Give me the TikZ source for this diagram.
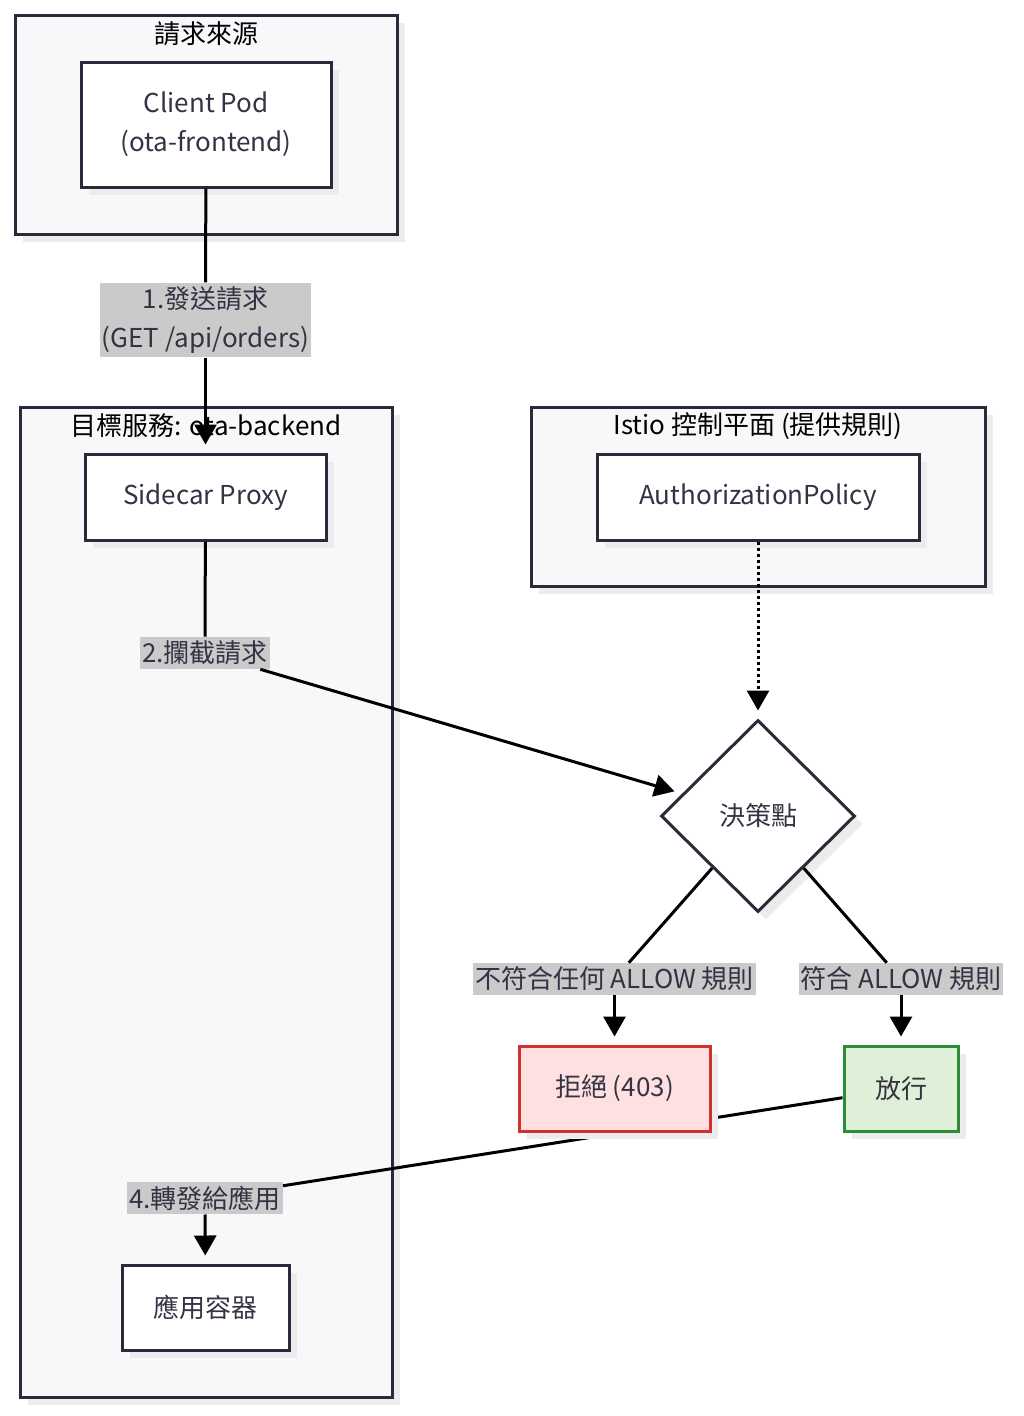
\documentclass[tikz,border=0pt]{standalone}
\usepackage{fontspec}
\setmainfont{Noto Sans CJK TC}
\usetikzlibrary{shapes.geometric,arrows.meta,shadows}

\definecolor{ink}{HTML}{2A2A3C}
\definecolor{txt}{HTML}{333344}
\definecolor{grp}{HTML}{F8F8FB}
\definecolor{lbl}{HTML}{CACACA}
\definecolor{shd}{HTML}{ECECEC}
\definecolor{denyfill}{HTML}{FFE0E0}
\definecolor{denyline}{HTML}{D32F2F}
\definecolor{okfill}{HTML}{DFF0D8}
\definecolor{okline}{HTML}{2E8B3A}

\pgfdeclarelayer{bg}
\pgfdeclarelayer{edges}
\pgfdeclarelayer{front}
\pgfsetlayers{bg,main,edges,front}

\begin{document}
\begin{tikzpicture}[x=1pt,y=-1pt,
  font=\fontsize{26}{39}\selectfont,
  shad/.style={drop shadow={shadow xshift=8pt,shadow yshift=-8pt,fill=shd,opacity=1}},
  grpbox/.style={draw=ink,line width=3pt,fill=grp,shad},
  grptitle/.style={text=black,inner sep=0pt},
  box/.style={draw=ink,line width=3pt,fill=white,text=txt,align=center,inner sep=0pt,shad},
  lblbox/.style={fill=lbl,text=txt,align=center,inner xsep=2pt,inner ysep=4pt},
  edge/.style={line width=3pt,black},
  arr/.style={edge,-{Triangle[length=20pt,width=22pt]},shorten >=8pt}]
\useasboundingbox (0,0) rectangle (1024,1416);

\begin{pgfonlayer}{bg}
\draw[grpbox] (15,15) rectangle (397,234);
\node[grptitle] (srctitle) at (206,34) {請求來源};
\draw[grpbox] (20,407) rectangle (392,1397);
\node[grptitle] (svctitle) at (206,426) {目標服務: ota-backend};
\draw[grpbox] (531,407) rectangle (985,586);
\node[grptitle] (ctltitle) at (758,426) {Istio 控制平面 (提供規則)};
\end{pgfonlayer}

\node[box,minimum width=250pt,minimum height=125pt] (client) at (206,124.5) {Client Pod\\(ota-frontend)};
\node[box,minimum width=241pt,minimum height=86pt] (sidecar) at (205.5,497) {Sidecar Proxy};
\node[box,minimum width=322pt,minimum height=86pt] (policy) at (758,497) {AuthorizationPolicy};
\node[box,diamond,aspect=1,minimum width=194pt,minimum height=192pt] (dec) at (758,816) {決策點};
\node[box,fill=okfill,draw=okline,minimum width=114pt,minimum height=85pt] (ok) at (901,1088.5) {放行};
\node[box,minimum width=167pt,minimum height=85pt] (app) at (205.5,1307.5) {應用容器};
\begin{pgfonlayer}{front}
\node[box,fill=denyfill,draw=denyline,minimum width=191pt,minimum height=85pt] (deny) at (614.5,1088.5) {拒絕 (403)};
\end{pgfonlayer}

\node[lblbox] (l1) at (205.5,320) {1.發送請求\\(GET /api/orders)};
\node[lblbox] (l2) at (205,653) {2.攔截請求};
\node[lblbox] (l3) at (614.5,979) {不符合任何 ALLOW 規則};
\node[lblbox] (l5) at (901,979) {符合 ALLOW 規則};
\node[lblbox] (l4) at (205,1198) {4.轉發給應用};

\begin{pgfonlayer}{edges}
\draw[edge] (client) -- (l1);
\draw[arr] (l1) -- (sidecar);
\draw[edge] (sidecar) -- (l2);
\draw[arr] (l2) -- (dec);
\draw[arr,dash pattern=on 3pt off 3pt] (policy) -- (dec);
\draw[edge] (dec) -- (l3);
\draw[arr] (l3) -- (deny);
\draw[edge] (dec) -- (l5);
\draw[arr] (l5) -- (ok);
\draw[edge] (ok) -- (l4);
\draw[arr] (l4) -- (app);
\end{pgfonlayer}
\end{tikzpicture}
\end{document}
